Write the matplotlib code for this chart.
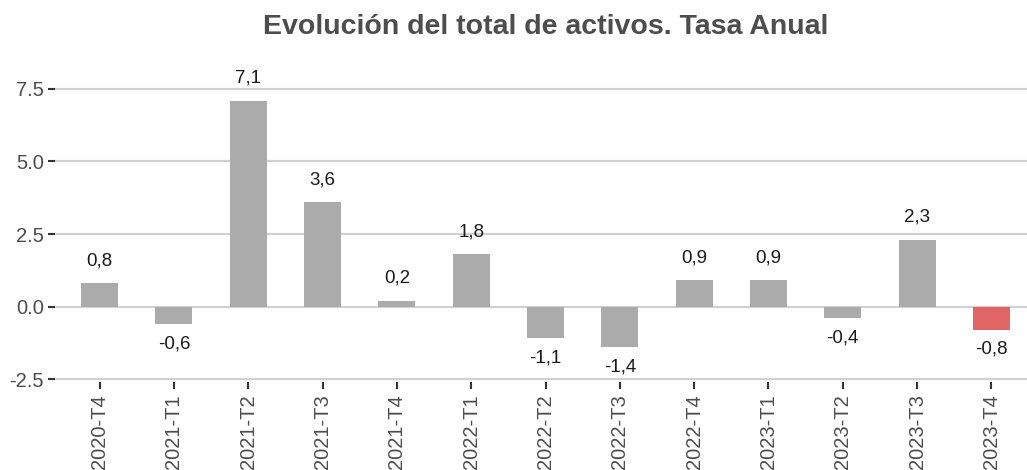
import matplotlib
matplotlib.use('Agg')
import matplotlib.pyplot as plt

plt.rcParams['font.family'] = ['Liberation Sans', 'DejaVu Sans']

periodos = ['2020-T4', '2021-T1', '2021-T2', '2021-T3', '2021-T4', '2022-T1', '2022-T2',
            '2022-T3', '2022-T4', '2023-T1', '2023-T2', '2023-T3', '2023-T4']
tasa = [0.8, -0.6, 7.1, 3.6, 0.2, 1.8, -1.1, -1.4, 0.9, 0.9, -0.4, 2.3, -0.8]
y_ticks = [-2.5, 0.0, 2.5, 5.0, 7.5]

colores = ['#ababab'] * (len(tasa) - 1) + ['#e06666']

fig = plt.figure(figsize=(10.27, 4.70), dpi=100)
ax = fig.add_axes([55 / 1027, 88 / 470, 981 / 1027, 325 / 470])

x = range(len(periodos))
ax.bar(x, tasa, width=0.5, color=colores, zorder=2)

# etiquetas con coma decimal
for i, v in enumerate(tasa):
    txt = f"{v:.1f}".replace('.', ',')
    if v >= 0:
        ax.annotate(txt, (i, v), xytext=(0, 10), textcoords='offset points',
                    ha='center', va='bottom', fontsize=13.5, color='#1a1a1a')
    else:
        ax.annotate(txt, (i, v), xytext=(0, -8), textcoords='offset points',
                    ha='center', va='top', fontsize=13.5, color='#1a1a1a')

ax.set_xlim(-0.6, len(periodos) - 0.4)
ax.set_ylim(-2.6, 8.6)
ax.set_yticks(y_ticks)
ax.set_yticklabels([f"{t:.1f}" for t in y_ticks])
ax.set_xticks(list(x))
ax.set_xticklabels(periodos, rotation=90)

ax.grid(axis='y', color='#d0d0d0', linewidth=1.5, zorder=0)
ax.grid(axis='x', visible=False)
for s in ax.spines.values():
    s.set_visible(False)
ax.tick_params(axis='both', colors='#333333', length=5, width=1.5,
               labelcolor='#4d4d4d', labelsize=14.5)
ax.tick_params(axis='y', pad=3)
ax.tick_params(axis='x', pad=4)

ax.set_title('Evolución del total de activos. Tasa Anual', fontsize=20.5,
             fontweight='bold', color='#4d4d4d', pad=16.5)

fig.savefig('out.png', dpi=100)
